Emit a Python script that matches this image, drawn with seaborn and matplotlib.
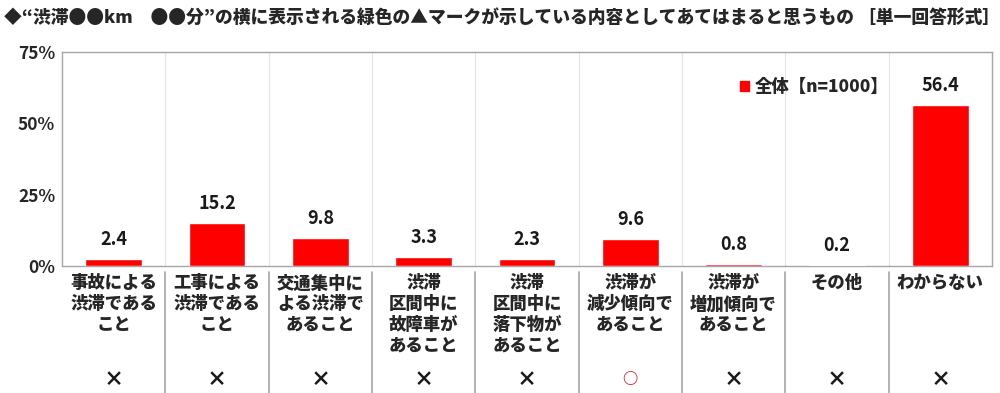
"""
渋滞マーク アンケート結果 - 棒グラフ
"""
import matplotlib
matplotlib.use('Agg')
import matplotlib.pyplot as plt
import matplotlib.transforms as mtransforms
from matplotlib.patches import Patch
import seaborn as sns
import pandas as pd

# データ
categories = [
    '事故による\n渋滞である\nこと',
    '工事による\n渋滞である\nこと',
    '交通集中に\nよる渋滞で\nあること',
    '渋滞\n区間中に\n故障車が\nあること',
    '渋滞\n区間中に\n落下物が\nあること',
    '渋滞が\n減少傾向で\nあること',
    '渋滞が\n増加傾向で\nあること',
    'その他',
    'わからない',
]
values = [2.4, 15.2, 9.8, 3.3, 2.3, 9.6, 0.8, 0.2, 56.4]
answers = ['×', '×', '×', '×', '×', '○', '×', '×', '×']
y_ticks = [0, 25, 50, 75]
legend_label = '全体【n=1000】'
title = '◆“渋滞●●km　●●分”の横に表示される緑色の▲マークが示している内容としてあてはまると思うもの ［単一回答形式］'

sns.set_theme(style='white')
plt.rcParams['font.family'] = ['Noto Sans CJK JP', 'DejaVu Sans']

df = pd.DataFrame({'cat': categories, 'val': values})

fig = plt.figure(figsize=(10, 3.93), dpi=100)
ax = fig.add_axes([0.062, 0.323, 0.930, 0.545])

sns.barplot(data=df, x='cat', y='val', color='#ff0000', saturation=1,
            width=0.55, ax=ax, zorder=3)

ax.set_ylim(0, 75)
ax.set_xlim(-0.5, len(categories) - 0.5)
ax.set_yticks(y_ticks)
ax.set_yticklabels([f'{t}%' for t in y_ticks], fontsize=12.5, fontweight='bold')
ax.tick_params(axis='y', length=0, pad=5)
ax.tick_params(axis='x', length=0, pad=6)
ax.set_xticks(range(len(categories)))
ax.set_xticklabels(categories, fontsize=12.5, fontweight='heavy',
                   linespacing=1.2, va='top')
ax.set_xlabel('')
ax.set_ylabel('')

for s in ax.spines.values():
    s.set_color('#a6a6a6')
    s.set_linewidth(1.0)

# 区切り線
trans = mtransforms.blended_transform_factory(ax.transData, ax.transAxes)
for i in range(1, len(categories)):
    ax.plot([i - 0.5, i - 0.5], [0, 1], color='#e3e3e3', lw=0.8,
            transform=trans, zorder=1)
    ax.plot([i - 0.5, i - 0.5], [-0.03, -0.6], color='#a6a6a6', lw=1.2,
            transform=trans, clip_on=False)

# 値ラベル
for i, v in enumerate(values):
    ax.text(i, v + 3.5, f'{v:.1f}', ha='center', va='bottom',
            fontsize=13, fontweight='bold', color='#1a1a1a')

# 正誤マーク
for i, a in enumerate(answers):
    if a == '○':
        ax.text(i, -0.53, a, ha='center', va='center', transform=trans,
                fontsize=11, fontweight='heavy', color='#d9262b')
    else:
        ax.text(i, -0.53, a, ha='center', va='center', transform=trans,
                fontsize=14.5, fontweight='heavy', color='#1a1a1a')

ax.legend(handles=[Patch(color='#ff0000', label=legend_label)],
          loc='upper right', bbox_to_anchor=(0.905, 0.95), frameon=False,
          prop={'size': 12.5, 'weight': 'heavy'}, handlelength=0.5,
          handleheight=0.5, handletextpad=0.3)

fig.text(0.004, 0.955, title, fontsize=12.8, fontweight='heavy',
         ha='left', va='center')

plt.savefig('out.png', dpi=100)
